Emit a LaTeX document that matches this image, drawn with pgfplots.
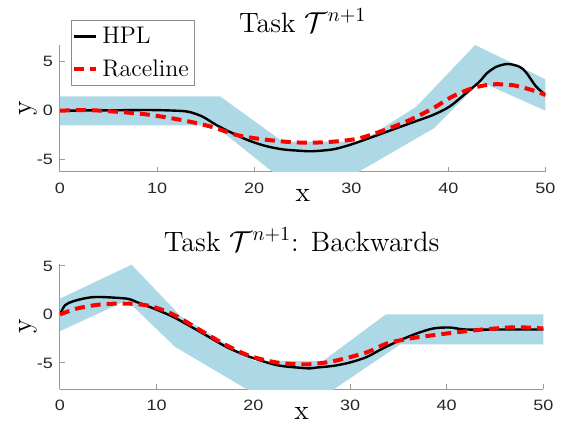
\documentclass[border=0pt]{standalone}
\usepackage{pgfplots}
\pgfplotsset{compat=1.18}
\usepackage{fontspec}
\newfontfamily\tickfont[FakeStretch=1.2]{Liberation Sans}
\definecolor{bandblue}{RGB}{173,216,230}

\pgfplotsset{
  trackax/.style={
    scale only axis, width=242.75pt,
    axis x line=bottom, axis y line=left,
    axis line style={black!40, line width=0.5pt, -},
    xmin=0, xmax=50,
    xtick={0,10,20,30,40,50}, xticklabels={0,10,20,30,40,50},
    ytick={-5,0,5}, yticklabels={-5,0,5},
    tick style={black!40, line width=0.5pt},
    tick align=inside, major tick length=2.5pt,
    ticklabel style={font=\tickfont\fontsize{7.5}{9}\selectfont, text=black!85},
    xticklabel style={anchor=base, yshift=-10.8pt},
    xlabel={x}, ylabel={y},
    label style={font=\fontsize{14}{16}\selectfont},
    xlabel style={at={(axis description cs:0.5,0)}, anchor=center, yshift=-12pt},
    ylabel style={at={(axis description cs:-0.066,0.5)}, anchor=center},
    title style={font=\fontsize{14}{16}\selectfont, at={(0.5,1)}, anchor=base, yshift=0.3pt},
  },
  hpl/.style={black, line width=1.2pt, smooth},
  race/.style={red, line width=2pt, dash pattern=on 5pt off 3pt, smooth},
}

\begin{document}
\begin{tikzpicture}
% forward task
\begin{axis}[trackax, at={(30pt,-85.85pt)}, anchor=south west,
    height=63.35pt, ymin=-6.2, ymax=6.68,
    title={Task $\mathcal{T}^{n+1}$},
    legend style={at={(0.022,1.2)}, anchor=north west, draw=black!45,
      line width=0.5pt, fill=white, inner xsep=0.3pt, inner ysep=0.3pt,
      row sep=0.3pt, font=\fontsize{12}{14}\selectfont,
      nodes={inner ysep=3.1pt, inner xsep=2.3pt}},
    legend cell align=left,
    legend image code/.code={\draw[#1] (0pt,0pt) -- (11pt,0pt);},
]
\addplot[fill=bandblue, draw=none, forget plot] coordinates {
  (0,1.45) (16.5,1.45) (22.95,-3.15) (31.0,-3.15) (36.7,0.41) (42.75,6.68) (50,3.19)
  (50,0) (43.3,2.95) (38.5,-1.79) (30.6,-6.3) (22.0,-6.3) (15.9,-1.49) (0,-1.49)
} -- cycle;
\addplot[hpl] coordinates {
  (0,0) (3,0.03) (6,0.05) (9.25,0.07) (11.5,0.02) (13.2,-0.1) (14.7,-0.61)
  (16.1,-1.45) (17.8,-2.3) (19.5,-3.05) (21.2,-3.59) (22.95,-3.93) (24.7,-4.07)
  (26.0,-4.12) (28.1,-3.93) (29.8,-3.49) (31.5,-2.91) (33.2,-2.3) (34.9,-1.69)
  (36.7,-1.05) (38.4,-0.44) (40.1,0.41) (41.8,1.77) (43.2,2.95) (43.9,3.75)
  (44.9,4.45) (46.1,4.75) (47.3,4.48) (48.0,3.9) (49.0,2.5) (50,1.6)
};
\addplot[race] coordinates {
  (0,0) (2.7,0.07) (5.8,-0.1) (8.6,-0.34) (11.0,-0.68) (13.4,-1.12) (15.8,-1.69)
  (18.2,-2.47) (20.9,-2.91) (23.6,-3.18) (25.7,-3.25) (28.1,-3.15) (30.8,-2.81)
  (33.6,-1.9) (36.0,-0.95) (38.4,0.24) (40.4,1.43) (42.5,2.3) (44.5,2.68)
  (46.6,2.6) (48.6,2.1) (50,1.6)
};
\legend{HPL, Raceline}
\end{axis}

% backwards task
\begin{axis}[trackax, at={(30pt,-194.65pt)}, anchor=south west,
    width=241.7pt, height=62.65pt, ymin=-7.72, ymax=5.2,
    title={Task $\mathcal{T}^{n+1}$: Backwards},
]
\addplot[fill=bandblue, draw=none] coordinates {
  (0,1.63) (7.4,5.13) (12.5,-0.2) (20.1,-4.8) (27.2,-4.8) (33.7,0) (50,0)
  (50,-3.09) (35.2,-3.09) (27.9,-8) (19.8,-8) (11.9,-3.34) (6.9,1.46) (0,-1.73)
} -- cycle;
\addplot[hpl] coordinates {
  (0,0) (0.52,0.95) (1.38,1.36) (2.76,1.7) (4.1,1.8) (6.9,1.63) (7.9,1.29)
  (9.3,0.77) (11.7,-0.25) (14.5,-1.8) (17.2,-3.34) (19.6,-4.36) (22.4,-5.22)
  (24.8,-5.5) (25.9,-5.56) (26.5,-5.48) (28.3,-5.3) (30,-4.95) (31.7,-4.4)
  (33.4,-3.5) (35.2,-2.65) (36.9,-1.96) (38.6,-1.45) (40.3,-1.35) (42.0,-1.55)
  (46,-1.55) (50,-1.55)
};
\addplot[race] coordinates {
  (0,0) (1.72,0.6) (4.1,1.02) (6.9,1.12) (9.3,0.87) (11.7,0) (14.5,-1.62)
  (17.2,-3.17) (19.6,-4.26) (22.4,-4.95) (25.5,-5.15) (28.3,-4.81) (31.7,-3.92)
  (33.8,-3.0) (36.2,-2.48) (38.6,-2.14) (41.4,-1.8) (44.1,-1.52) (47.2,-1.32)
  (50,-1.45)
};
\end{axis}
\pgfresetboundingbox
\path[use as bounding box] (0,0) rectangle (282pt,-210pt);
\end{tikzpicture}
\end{document}
